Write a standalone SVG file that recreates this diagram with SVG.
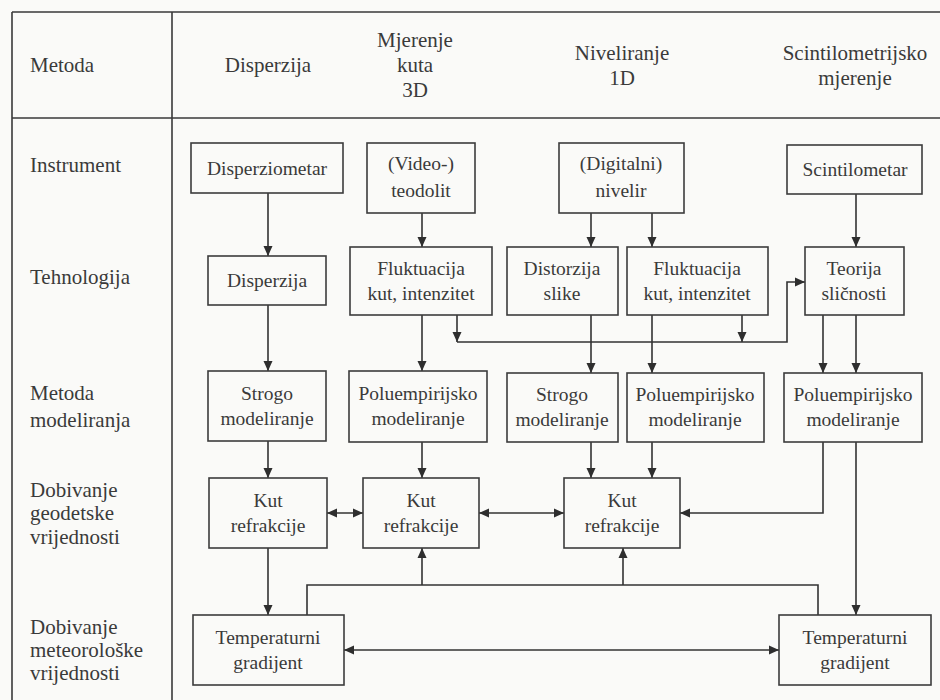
<svg xmlns="http://www.w3.org/2000/svg" width="940" height="700" viewBox="0 0 940 700">
<defs>
<marker id="ah" viewBox="0 0 10 10" refX="10" refY="5" markerWidth="10" markerHeight="10" markerUnits="userSpaceOnUse" orient="auto-start-reverse">
<path d="M0,0.5 L10,5 L0,9.5 z" fill="#2e2e2e"/>
</marker>
<style>
text{font-family:'Liberation Serif','DejaVu Serif',serif}
.frame{stroke:#3a3a3a;stroke-width:1.6;fill:none}
.box rect{fill:none;stroke:#3c3c3c;stroke-width:1.6}
.box text{font-size:19.5px;fill:#3a3a3a;text-anchor:middle}
.lbl text{font-size:21px;fill:#3a3a3a}
.lbl .hdr{text-anchor:middle}
.c path{fill:none;stroke:#333;stroke-width:1.6}
.a{marker-end:url(#ah)}
.b{marker-start:url(#ah);marker-end:url(#ah)}
</style>
</defs>
<rect width="940" height="700" fill="#fafaf8"/>
<g id="frame">
<path class="frame" d="M12,12 H940 M12,118 H940 M12,12 V700 M172,12 V700"/>
</g>
<g id="labels" class="lbl" font-family="Liberation Serif, DejaVu Serif, serif">
<text x="30" y="72">Metoda</text>
<text class="hdr" x="268" y="72">Disperzija</text>
<text class="hdr" x="415" y="47">Mjerenje</text>
<text class="hdr" x="415" y="72">kuta</text>
<text class="hdr" x="415" y="97">3D</text>
<text class="hdr" x="622" y="60">Niveliranje</text>
<text class="hdr" x="622" y="85">1D</text>
<text class="hdr" x="855" y="60">Scintilometrijsko</text>
<text class="hdr" x="855" y="85">mjerenje</text>
<text x="30" y="172">Instrument</text>
<text x="30" y="284">Tehnologija</text>
<text x="30" y="400">Metoda</text>
<text x="30" y="427">modeliranja</text>
<text x="30" y="497">Dobivanje</text>
<text x="30" y="520">geodetske</text>
<text x="30" y="544">vrijednosti</text>
<text x="30" y="634">Dobivanje</text>
<text x="30" y="657">meteorološke</text>
<text x="30" y="680">vrijednosti</text>
</g>
<g id="connectors" class="c">
<path class="a" d="M268,193 V256"/>
<path class="a" d="M422,213 V247"/>
<path class="a" d="M591,213 V247"/>
<path class="a" d="M652,213 V247"/>
<path class="a" d="M856,194 V247"/>
<path class="a" d="M268,305 V371"/>
<path class="a" d="M422,315 V371"/>
<path class="a" d="M457,315 V342"/>
<path class="a" d="M742,315 V342"/>
<path class="a" d="M457,342 H787 V282 H805"/>
<path class="a" d="M591,315 V373"/>
<path class="a" d="M652,315 V373"/>
<path class="a" d="M823,315 V373"/>
<path class="a" d="M856,315 V373"/>
<path class="a" d="M268,441 V478"/>
<path class="a" d="M422,442 V478"/>
<path class="a" d="M591,442 V478"/>
<path class="a" d="M652,442 V478"/>
<path class="a" d="M823,442 V513 H680"/>
<path class="a" d="M856,442 V615"/>
<path class="b" d="M327,513 H363"/>
<path class="b" d="M479,513 H564"/>
<path class="a" d="M268,548 V615"/>
<path class="b" d="M344,650 H779"/>
<path d="M307,615 V585 H818 V615"/>
<path class="a" d="M422,585 V548"/>
<path class="a" d="M623,585 V548"/>
</g>
<g id="disperziometar" class="box" font-family="Liberation Serif, DejaVu Serif, serif"><rect x="191" y="143" width="152" height="50"/><text x="267" y="175">Disperziometar</text></g>
<g id="teodolit" class="box"><rect x="367" y="143" width="108" height="70"/><text x="421" y="170">(Video-)</text><text x="421" y="197">teodolit</text></g>
<g id="nivelir" class="box"><rect x="559" y="143" width="125" height="70"/><text x="621" y="170">(Digitalni)</text><text x="621" y="197">nivelir</text></g>
<g id="scintilometar" class="box"><rect x="787" y="145" width="135" height="49"/><text x="855" y="176">Scintilometar</text></g>
<g id="disperzija" class="box"><rect x="208" y="256" width="118" height="49"/><text x="267" y="287">Disperzija</text></g>
<g id="fluktuacija1" class="box"><rect x="350" y="247" width="142" height="68"/><text x="421" y="275">Fluktuacija</text><text x="421" y="300">kut, intenzitet</text></g>
<g id="distorzija" class="box"><rect x="507" y="247" width="111" height="68"/><text x="562" y="275">Distorzija</text><text x="562" y="300">slike</text></g>
<g id="fluktuacija2" class="box"><rect x="627" y="247" width="141" height="68"/><text x="697" y="275">Fluktuacija</text><text x="697" y="300">kut, intenzitet</text></g>
<g id="teorija" class="box"><rect x="805" y="247" width="99" height="68"/><text x="854" y="275">Teorija</text><text x="854" y="300">sličnosti</text></g>
<g id="strogo1" class="box"><rect x="208" y="371" width="118" height="70"/><text x="267" y="400">Strogo</text><text x="267" y="425">modeliranje</text></g>
<g id="poluemp1" class="box"><rect x="349" y="371" width="138" height="71"/><text x="418" y="400">Poluempirijsko</text><text x="418" y="425">modeliranje</text></g>
<g id="strogo2" class="box"><rect x="507" y="373" width="111" height="69"/><text x="562" y="401">Strogo</text><text x="562" y="426">modeliranje</text></g>
<g id="poluemp2" class="box"><rect x="627" y="373" width="137" height="69"/><text x="695" y="401">Poluempirijsko</text><text x="695" y="426">modeliranje</text></g>
<g id="poluemp3" class="box"><rect x="784" y="373" width="138" height="69"/><text x="853" y="401">Poluempirijsko</text><text x="853" y="426">modeliranje</text></g>
<g id="kut1" class="box"><rect x="209" y="478" width="118" height="70"/><text x="268" y="507">Kut</text><text x="268" y="532">refrakcije</text></g>
<g id="kut2" class="box"><rect x="363" y="478" width="116" height="70"/><text x="421" y="507">Kut</text><text x="421" y="532">refrakcije</text></g>
<g id="kut3" class="box"><rect x="564" y="478" width="116" height="70"/><text x="622" y="507">Kut</text><text x="622" y="532">refrakcije</text></g>
<g id="temp1" class="box"><rect x="193" y="615" width="151" height="70"/><text x="268" y="644">Temperaturni</text><text x="268" y="669">gradijent</text></g>
<g id="temp2" class="box"><rect x="779" y="615" width="152" height="70"/><text x="855" y="644">Temperaturni</text><text x="855" y="669">gradijent</text></g>
</svg>
